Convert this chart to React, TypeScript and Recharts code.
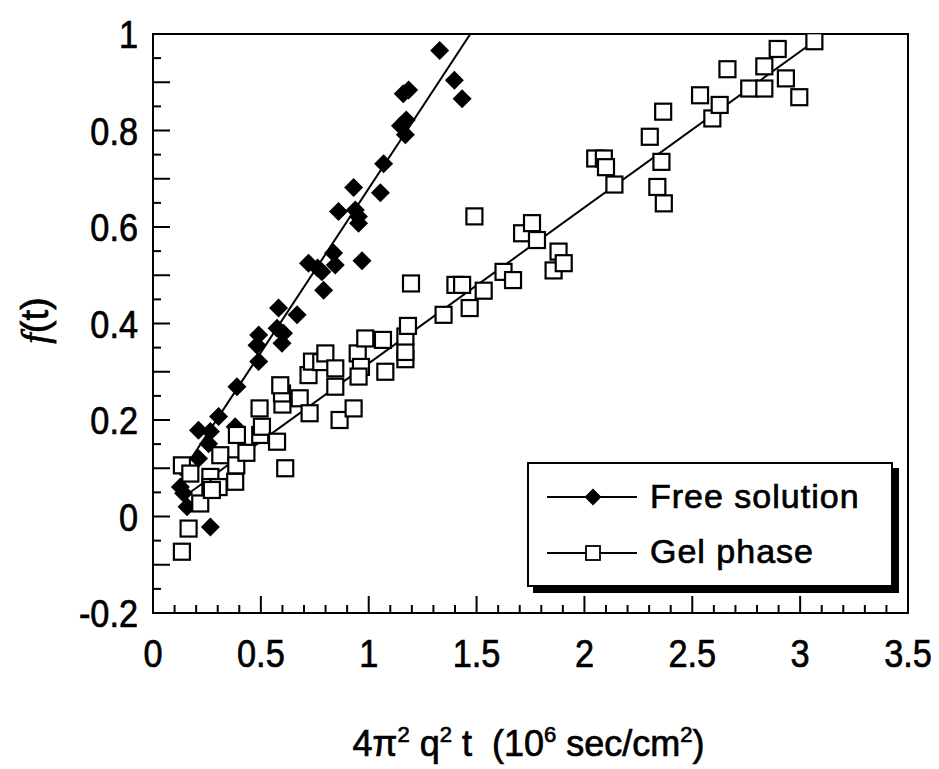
import React from 'react';
import { ScatterChart, Scatter, XAxis, YAxis, ReferenceArea } from 'recharts';

// Free solution (filled diamonds)
const freeX = [0.127, 0.142, 0.158, 0.266, 0.211, 0.258, 0.211, 0.266, 0.304, 0.381, 0.389, 0.49, 0.482, 0.49, 0.598, 0.605, 0.575, 0.582, 0.668, 0.791, 0.783, 0.721, 0.763, 0.837, 0.845, 0.969, 0.953, 0.86, 0.938, 0.952, 0.93, 1.054, 1.069, 1.17, 1.147, 1.174, 1.16, 1.185, 1.329, 1.397, 1.433];
const freeY = [0.061, 0.048, 0.02, -0.022, 0.12, 0.151, 0.179, 0.176, 0.207, 0.186, 0.269, 0.321, 0.355, 0.376, 0.359, 0.38, 0.39, 0.432, 0.418, 0.469, 0.507, 0.525, 0.515, 0.546, 0.521, 0.53, 0.608, 0.632, 0.635, 0.622, 0.682, 0.671, 0.731, 0.791, 0.81, 0.822, 0.876, 0.884, 0.966, 0.904, 0.866];

// Gel phase (open squares)
const gelX = [0.134, 0.165, 0.219, 0.134, 0.173, 0.266, 0.266, 0.304, 0.273, 0.312, 0.381, 0.386, 0.433, 0.389, 0.497, 0.505, 0.575, 0.613, 0.494, 0.6, 0.598, 0.59, 0.68, 0.726, 0.721, 0.737, 0.78, 0.799, 0.845, 0.845, 0.865, 0.93, 0.949, 0.964, 0.953, 0.984, 1.066, 1.077, 1.17, 1.17, 1.17, 1.182, 1.196, 1.347, 1.402, 1.433, 1.468, 1.533, 1.49, 1.625, 1.669, 1.711, 1.757, 1.78, 1.857, 1.88, 1.904, 2.05, 2.09, 2.1, 2.139, 2.303, 2.338, 2.357, 2.365, 2.368, 2.536, 2.593, 2.627, 2.663, 2.764, 2.834, 2.834, 2.896, 2.934, 2.996, 3.066];
const gelY = [-0.073, -0.025, 0.027, 0.106, 0.089, 0.082, 0.061, 0.061, 0.055, 0.127, 0.072, 0.106, 0.132, 0.169, 0.169, 0.186, 0.155, 0.1, 0.224, 0.232, 0.255, 0.272, 0.245, 0.214, 0.293, 0.321, 0.32, 0.338, 0.307, 0.269, 0.2, 0.224, 0.338, 0.31, 0.29, 0.369, 0.366, 0.3, 0.326, 0.341, 0.373, 0.395, 0.483, 0.418, 0.48, 0.48, 0.432, 0.468, 0.622, 0.507, 0.49, 0.587, 0.608, 0.573, 0.51, 0.549, 0.525, 0.742, 0.742, 0.724, 0.688, 0.787, 0.683, 0.735, 0.839, 0.649, 0.873, 0.825, 0.853, 0.927, 0.887, 0.887, 0.933, 0.969, 0.908, 0.869, 0.985];

// fitted lines
const freeFitX = [0.125, 1.471];
const freeFitY = [0.085, 1.0];
const gelFitX = [0.16, 3.066];
const gelFitY = [0.046, 0.985];

const xLabelTicks = [0, 0.5, 1, 1.5, 2, 2.5, 3, 3.5];
const yLabelTicks = [-0.2, 0, 0.2, 0.4, 0.6, 0.8, 1];

const xTicks = Array.from({ length: 36 }, (_, i) => i / 10);
const yTicks = Array.from({ length: 25 }, (_, i) => (i * 5 - 20) / 100);

const toPoints = (xs: number[], ys: number[]) => xs.map((x, i) => ({ x, y: ys[i] }));

const freeData = toPoints(freeX, freeY);
const gelData = toPoints(gelX, gelY);
const freeFit = toPoints(freeFitX, freeFitY);
const gelFit = toPoints(gelFitX, gelFitY);

const FONT = '"Liberation Sans", Arial, Helvetica, sans-serif';
// scanned type looks heavier than the regular weight
const ink = { fill: '#000', stroke: '#000', strokeWidth: 0.7 };

const isIn = (list: number[], v: number) => list.some((t) => Math.abs(t - v) < 1e-6);

const XTick = (props: any) => {
  const { x, y, payload } = props;
  const v = payload.value;
  const major = isIn(xLabelTicks, v);
  return (
    <g>
      <line x1={x} y1={y} x2={x} y2={y - (major ? 17 : 8)} stroke="#000" strokeWidth={2} />
      {major && (
        <text transform={`translate(${x},${y + 54}) scale(0.88,1)`} textAnchor="middle" fontFamily={FONT} fontSize={39} {...ink}>
          {String(v)}
        </text>
      )}
    </g>
  );
};

const YTick = (props: any) => {
  const { x, y, payload } = props;
  const v = payload.value;
  const long = Math.round(v * 100) % 10 === 0;
  const labeled = isIn(yLabelTicks, v);
  return (
    <g>
      <line x1={x} y1={y} x2={x + (long ? 17 : 8)} y2={y} stroke="#000" strokeWidth={2} />
      {labeled && (
        <text transform={`translate(${x - 15},${y + 14}) scale(0.88,1)`} textAnchor="end" fontFamily={FONT} fontSize={39} {...ink}>
          {String(v)}
        </text>
      )}
    </g>
  );
};

const XTitle = (props: any) => {
  const { viewBox } = props;
  const cx = viewBox.x + viewBox.width / 2;
  return (
    <text x={cx - 2} y={viewBox.y + 143} textAnchor="middle" fontFamily={FONT} fontSize={36} {...ink}>
      4π<tspan dy={-14} fontSize={22}>2</tspan>
      <tspan dy={14}> q</tspan>
      <tspan dy={-14} fontSize={22}>2</tspan>
      <tspan dy={14}>{' t\u00A0\u00A0(10'}</tspan>
      <tspan dy={-14} fontSize={22}>6</tspan>
      <tspan dy={14}> sec/cm</tspan>
      <tspan dy={-14} fontSize={22}>2</tspan>
      <tspan dy={14}>)</tspan>
    </text>
  );
};

const YTitle = (props: any) => {
  const { viewBox } = props;
  const cy = viewBox.y + viewBox.height / 2;
  return (
    <text transform={`translate(48,${cy - 3}) rotate(-90)`} textAnchor="middle" fontFamily={FONT} fontSize={38} {...ink}>
      <tspan fontStyle="italic" fontFamily='"Liberation Serif", "Times New Roman", serif'>f</tspan>(t)
    </text>
  );
};

const Diamond = (props: any) => {
  const { cx, cy } = props;
  const h = 9.5;
  return <polygon points={`${cx},${cy - h} ${cx + h},${cy} ${cx},${cy + h} ${cx - h},${cy}`} fill="#000" />;
};

const Square = (props: any) => {
  const { cx, cy } = props;
  return <rect x={cx - 8} y={cy - 8} width={16} height={16} fill="#fff" stroke="#000" strokeWidth={2.2} />;
};

const NoShape = () => <g />;

const LegendBox = () => (
  <div
    style={{
      position: 'absolute',
      left: 527,
      top: 462,
      width: 366,
      height: 125,
      boxSizing: 'border-box',
      border: '2px solid #000',
      boxShadow: '6px 6px 0 #000',
      background: '#fff',
    }}
  >
    <svg width={362} height={121} style={{ position: 'absolute', left: 0, top: 0 }}>
      <line x1={18} y1={33} x2={108} y2={33} stroke="#000" strokeWidth={2} />
      <polygon points="64,24.5 72.5,33 64,41.5 55.5,33" fill="#000" />
      <text x={121} y={44} fontFamily={FONT} fontSize={34} letterSpacing={1} {...ink}>
        Free solution
      </text>
      <line x1={18} y1={89} x2={108} y2={89} stroke="#000" strokeWidth={2} />
      <rect x={57} y={82} width={14} height={14} fill="#fff" stroke="#000" strokeWidth={1.8} />
      <text x={121} y={99} fontFamily={FONT} fontSize={34} letterSpacing={1} {...ink}>
        Gel phase
      </text>
    </svg>
  </div>
);

export default function App() {
  return (
    <div style={{ position: 'absolute', left: 0, top: 0, width: 939, height: 769, background: '#fff' }}>
      <ScatterChart width={939} height={769} margin={{ top: 34, right: 31, bottom: 96, left: 0 }}>
        <XAxis
          type="number"
          dataKey="x"
          domain={[0, 3.5]}
          ticks={xTicks}
          interval={0}
          tick={<XTick />}
          tickLine={false}
          tickSize={0}
          tickMargin={0}
          axisLine={false}
          height={60}
          allowDataOverflow
          label={<XTitle />}
        />
        <YAxis
          type="number"
          dataKey="y"
          domain={[-0.2, 1]}
          ticks={yTicks}
          interval={0}
          tick={<YTick />}
          tickLine={false}
          tickSize={0}
          tickMargin={0}
          axisLine={false}
          width={153}
          allowDataOverflow
          label={<YTitle />}
        />
        <ReferenceArea x1={0} x2={3.5} y1={-0.2} y2={1} fill="none" stroke="#000" strokeWidth={2} ifOverflow="visible" />
        <Scatter data={freeFit} line={{ stroke: '#000', strokeWidth: 2 }} shape={<NoShape />} isAnimationActive={false} />
        <Scatter data={gelFit} line={{ stroke: '#000', strokeWidth: 2 }} shape={<NoShape />} isAnimationActive={false} />
        <Scatter data={freeData} shape={<Diamond />} isAnimationActive={false} />
        <Scatter data={gelData} shape={<Square />} isAnimationActive={false} />
      </ScatterChart>
      <LegendBox />
    </div>
  );
}
